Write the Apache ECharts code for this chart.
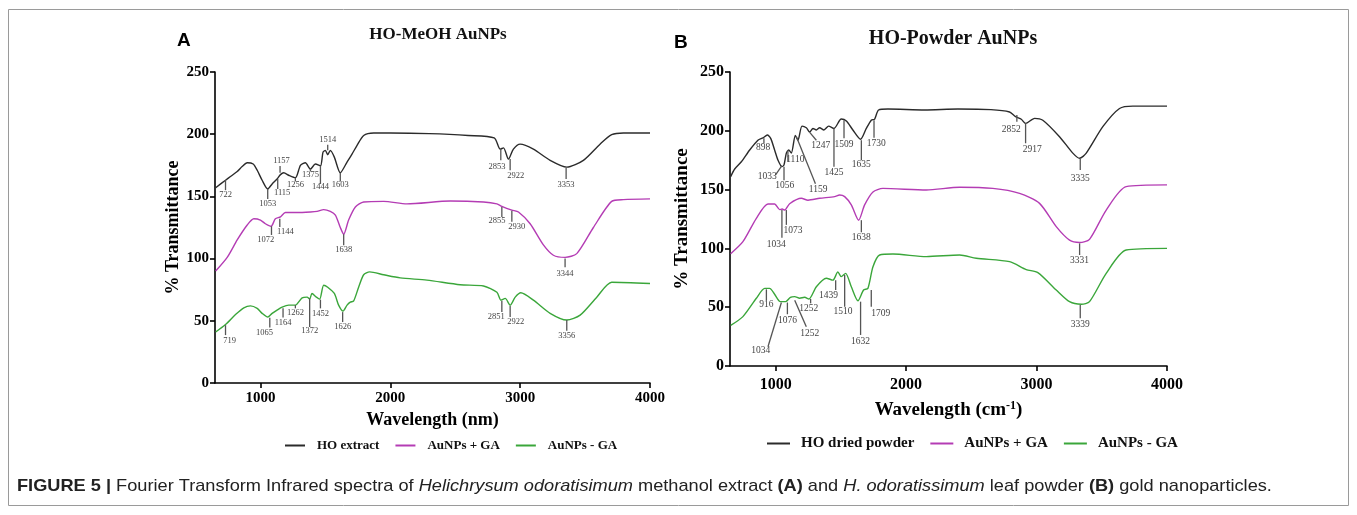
<!DOCTYPE html>
<html>
<head>
<meta charset="utf-8">
<title>FTIR spectra of HO AuNPs</title>
<script src="https://cdn.jsdelivr.net/npm/echarts@6/dist/echarts.min.js"></script>
<style>
    html, body { margin: 0; padding: 0; background: #fff; }
    #main { width: 1357px; height: 515px; }
</style>
</head>
<body>
<div id="main"></div>
<script>
// ---- panel A : HO-MeOH AuNPs (wavenumber, % transmittance) ----
const extractA = [[655,157],[731,163],[769,166],[821,170],[859,174],[898,177],[944,176],[975,171],[1013,163],[1056,156],[1090,160],[1128,164],[1154,167.5],[1179,169],[1218,167],[1269,165],[1308,175],[1346,177],[1385,172],[1423,176],[1462,174.5],[1482,185.6],[1500,187],[1518,183.5],[1538,187],[1569,181.6],[1615,169],[1667,177.6],[1705,184],[1744,191],[1795,199],[1872,201],[2000,201],[2300,200.5],[2600,199],[2800,197],[2846,188],[2872,189],[2910,180],[2948,188],[3000,192],[3102,188],[3231,179],[3359,173.5],[3487,179],[3615,192],[3705,199.6],[3795,201],[4000,201]];
const plusGaA = [[655,90],[744,101],[821,115],[898,127],[949,132],[1000,131],[1038,128],[1082,126],[1115,132],[1154,133.5],[1192,137],[1282,137],[1385,137.5],[1436,138],[1487,139.4],[1538,138],[1577,135],[1615,125],[1641,119.6],[1679,131],[1731,141.5],[1795,145.5],[1949,146],[2128,144],[2462,146.3],[2718,145.5],[2821,144],[2859,142],[2936,139],[2987,137.5],[3077,128],[3179,111],[3256,102.7],[3346,101],[3436,104],[3564,125],[3705,146],[3795,147.4],[4000,148]];
const minusGaA = [[655,41],[731,47],[808,55],[872,60.4],[923,62],[975,60],[1013,56],[1056,53],[1090,56],[1128,58.6],[1167,61],[1218,62.6],[1269,62.6],[1321,68.5],[1359,69],[1379,67.4],[1397,72],[1431,69],[1456,67.4],[1487,78.6],[1518,77],[1569,72],[1602,62.6],[1636,57.8],[1667,62.6],[1692,65],[1718,66],[1756,77],[1795,87],[1841,89.3],[1949,87],[2077,84.5],[2282,82.7],[2538,79],[2718,78],[2821,73],[2852,66.6],[2885,68],[2923,62.6],[2962,69],[3005,72.5],[3102,66.6],[3231,56],[3359,50.6],[3462,54.6],[3590,69],[3705,81],[4000,80]];

// ---- panel B : HO-Powder AuNPs ----
const powderB = [[655,161],[686,167.5],[737,173.7],[801,183.7],[864,192],[903,194],[936,196.4],[962,193.6],[992,183.7],[1018,175],[1048,169.5],[1064,171],[1082,181],[1100,183.7],[1120,181],[1151,196],[1171,192],[1202,204],[1235,202.6],[1261,199],[1286,202],[1312,200.7],[1337,202.6],[1370,200.7],[1406,204],[1447,202],[1503,210],[1542,208.3],[1592,200.7],[1651,192.8],[1695,202],[1733,209],[1759,210],[1789,217.7],[1861,218.5],[2142,217.7],[2397,218.5],[2650,218],[2793,216],[2839,212],[2883,209.8],[2916,206.3],[2985,210.6],[3048,209],[3176,195],[3278,181],[3330,176.6],[3381,181],[3508,203.5],[3636,219],[3738,221],[4000,221]];
const plusGaB = [[655,95.5],[749,105.7],[852,125.6],[941,137.7],[992,137.7],[1031,133],[1050,133.5],[1069,132.6],[1107,138],[1197,142.6],[1248,141],[1337,142.6],[1452,144],[1490,145.4],[1529,144],[1580,137],[1636,124],[1682,137],[1746,148],[1822,151],[2155,149.7],[2410,152],[2665,151],[2870,146.8],[3023,138.3],[3151,118.5],[3253,107],[3330,105],[3406,107.7],[3534,132.6],[3687,152.5],[4000,154]];
const minusGaB = [[655,34.5],[749,42],[852,57.6],[916,66],[954,66],[992,61],[1036,54.7],[1077,54.7],[1113,58.4],[1146,59],[1184,57.6],[1222,58.4],[1255,57],[1312,67.4],[1388,74.6],[1439,73],[1477,80],[1503,76],[1536,78.8],[1580,67.4],[1631,55.5],[1674,64.6],[1707,66],[1746,84.4],[1797,94.4],[1899,95.2],[2155,93],[2410,94.4],[2538,91.6],[2793,88.7],[2921,82],[3010,79.4],[3151,64.6],[3253,54.7],[3343,52.5],[3406,54.7],[3534,78.8],[3687,98.6],[4000,100]];

// peak labels: [text, x1, y1, x2, y2, labelX, labelY] in data units
const peaksA = [
    ['722',731,163,731,155,731,151],['1053',1056,156,1056,148,1056,144],['1115',1133,164,1133,156,1167,153],
    ['1157',1151,169,1151,174.5,1162,178.4],['1256',1269,165,1269,162,1269,159.7],['1375',1385,172.3,1385,170,1385,167],
    ['1444',1462,174.5,1462,160,1462,157.5],['1514',1518,187,1518,191.6,1518,195.8],['1603',1615,169,1615,162,1615,159],
    ['2853',2851,188.4,2851,179,2821,174],['2922',2923,180,2923,171,2967,166.4],['3353',3354,173,3354,164,3354,159.7],
    ['1072',1085,126,1085,119,1041,114.8],['1144',1149,132,1149,125.5,1192,121.4],['1638',1641,119.6,1641,110.8,1641,107.3],
    ['2855',2859,141.5,2859,133.5,2821,130.3],['2930',2936,138.5,2936,129.7,2974,125.4],['3344',3346,100,3346,93,3346,88],
    ['719',731,46.5,731,38.5,762,34],['1065',1072,52.4,1072,44.7,1031,40.7],['1164',1174,60,1174,52.7,1174,48.7],
    ['1262',1269,62.6,1269,60,1269,56.4],['1372',1379,68,1379,45,1379,42],['1452',1462,67,1462,60,1462,56],
    ['1626',1633,57,1633,49,1633,45.2],['2851',2859,66,2859,57,2815,53.2],['2922',2923,61.8,2923,53,2967,49.2],
    ['3356',3359,50.6,3359,42,3359,37.7]
];
const peaksB = [
    ['898',910,193.6,910,189.4,903,185.6],['1033',1048,170.3,998,162.4,936,161],['1056',1064,169.5,1064,158,1069,153.9],
    ['1110',1094,183.7,1094,173.7,1151,175.2],['1159',1159,195,1305,155,1325,149.7],['1247',1261,198.7,1312,192,1345,187.3],
    ['1425',1447,202,1447,169.5,1447,164.7],['1509',1524,209,1524,193.6,1524,188],['1635',1657,192,1657,175,1657,171.5],
    ['1730',1754,209,1754,194,1772,189.4],['2852',2849,213.4,2849,207.7,2806,200.7],['2917',2916,206.4,2916,189.4,2967,184.3],
    ['3335',3335,176.6,3335,166.7,3335,159.6],
    ['1034',1048,132.6,1048,109,1005,103.5],['1073',1082,132.6,1082,120,1133,115.6],['1638',1657,124,1657,113.7,1657,109],
    ['3331',3330,104.3,3330,94.4,3330,89.5],
    ['916',929,65.2,929,56,929,51.9],['1034',1044,54,941,16.4,885,12.8],['1076',1090,54,1090,44,1090,39],
    ['1252',1268,57,1268,53.3,1253,48.5],['1252',1146,56,1235,33.4,1261,27.8],['1439',1460,73,1460,64.6,1406,59.8],
    ['1510',1529,77.4,1529,50.4,1516,46.2],['1632',1651,54.7,1651,26.4,1651,20.7],['1709',1733,64.6,1733,50.4,1805,44.8],
    ['3339',3335,51.9,3335,40.6,3335,35.7]
];

const xTicks = [1000, 2000, 3000, 4000];
const legendA = ['HO extract', 'AuNPs + GA', 'AuNPs - GA'];
const legendB = ['HO dried powder', 'AuNPs + GA', 'AuNPs - GA'];

const BLACK = '#2b2b2b', PURPLE = '#b43cb4', GREEN = '#3aa63a';
const serif = '"Liberation Serif", "Times New Roman", serif';
const sans = '"Liberation Sans", Arial, sans-serif';

const chart = echarts.init(document.getElementById('main'));

function xAxisFor(idx, name, size, gap, margin) {
    return {
        gridIndex: idx, type: 'value', min: 650, max: 4000,
        axisLine: { lineStyle: { color: '#000', width: 1.6 } },
        axisTick: { customValues: xTicks, length: 5, lineStyle: { color: '#000', width: 1.6 } },
        axisLabel: { customValues: xTicks, formatter: v => String(v), color: '#000',
                     fontFamily: serif, fontWeight: 'bold', fontSize: size, margin: margin },
        splitLine: { show: false },
        name: name, nameLocation: 'middle', nameGap: gap,
        nameTextStyle: {
            color: '#000', fontFamily: serif, fontWeight: 'bold', fontSize: size + 3,
            rich: { sup: { fontFamily: serif, fontWeight: 'bold', fontSize: 12, verticalAlign: 'top', padding: [0, 0, 8, 0] } }
        }
    };
}

function yAxisFor(idx, size, gap) {
    return {
        gridIndex: idx, type: 'value', min: 0, max: 250, interval: 50,
        axisLine: { show: true, lineStyle: { color: '#000', width: 1.6 } },
        axisTick: { show: true, length: 5, lineStyle: { color: '#000', width: 1.6 } },
        axisLabel: { color: '#000', fontFamily: serif, fontWeight: 'bold', fontSize: size, margin: 6 },
        splitLine: { show: false },
        name: '% Transmittance', nameLocation: 'middle', nameGap: gap, nameRotate: 90,
        nameTextStyle: { color: '#000', fontFamily: serif, fontWeight: 'bold', fontSize: size + 3 }
    };
}

function spectrum(name, data, color, idx) {
    return {
        type: 'line', name: name, data: data, xAxisIndex: idx, yAxisIndex: idx,
        symbol: 'none', smooth: 0.25, silent: true,
        lineStyle: { color: color, width: 1.4 }, itemStyle: { color: color }
    };
}

function peakSeries(peaks, idx, fontSize) {
    return {
        type: 'custom', xAxisIndex: idx, yAxisIndex: idx, silent: true, z: 5,
        data: peaks.map(p => p.slice(1)),
        encode: { x: [0, 2, 4], y: [1, 3, 5] },
        renderItem: (params, api) => {
            const p = peaks[params.dataIndex];
            const a = api.coord([p[1], p[2]]);
            const b = api.coord([p[3], p[4]]);
            const t = api.coord([p[5], p[6]]);
            return {
                type: 'group',
                children: [
                    { type: 'line', shape: { x1: a[0], y1: a[1], x2: b[0], y2: b[1] },
                      style: { stroke: '#555', lineWidth: 1.3 } },
                    { type: 'text', x: t[0], y: t[1],
                      style: { text: p[0], fill: '#444', fontFamily: serif, fontSize: fontSize,
                               align: 'center', verticalAlign: 'middle' } }
                ]
            };
        }
    };
}

const legendBase = {
    icon: 'rect', itemWidth: 20, itemHeight: 2, itemGap: 16,
    selectedMode: false
};

chart.setOption({
    animation: false,
    backgroundColor: '#fff',
    title: [
        { text: 'HO-MeOH AuNPs', left: 433, top: 21, textAlign: 'center',
          textStyle: { fontFamily: serif, fontWeight: 'bold', fontSize: 17, color: '#111' } },
        { text: 'HO-Powder AuNPs', left: 948, top: 24, textAlign: 'center',
          textStyle: { fontFamily: serif, fontWeight: 'bold', fontSize: 20, color: '#111' } }
    ],
    legend: [
        Object.assign({}, legendBase, { data: legendA, left: 280, top: 434,
            textStyle: { fontFamily: serif, fontWeight: 'bold', fontSize: 13, color: '#111', padding: [0, 0, 0, 7] } }),
        Object.assign({}, legendBase, { data: legendB, left: 762, top: 431, itemWidth: 23,
            textStyle: { fontFamily: serif, fontWeight: 'bold', fontSize: 15, color: '#111', padding: [0, 0, 0, 6] } })
    ],
    grid: [
        { left: 215, top: 72, width: 435, height: 311 },
        { left: 730, top: 72, width: 437, height: 294 }
    ],
    xAxis: [
        xAxisFor(0, 'Wavelength (nm)', 15, 28, 8),
        xAxisFor(1, 'Wavelength (cm{sup|-1})', 16, 34, 11)
    ],
    yAxis: [yAxisFor(0, 15, 33), yAxisFor(1, 16, 38)],
    series: [
        spectrum('HO extract', extractA, BLACK, 0),
        spectrum('AuNPs + GA', plusGaA, PURPLE, 0),
        spectrum('AuNPs - GA', minusGaA, GREEN, 0),
        spectrum('HO dried powder', powderB, BLACK, 1),
        spectrum('AuNPs + GA', plusGaB, PURPLE, 1),
        spectrum('AuNPs - GA', minusGaB, GREEN, 1),
        peakSeries(peaksA, 0, 8.5),
        peakSeries(peaksB, 1, 9.5)
    ],
    graphic: [
        { type: 'rect', shape: { x: 8.5, y: 9.5, width: 1340, height: 496 },
          style: { fill: 'none', stroke: '#9a9a9a', lineWidth: 1 }, silent: true },
        { type: 'text', left: 177, top: 31,
          style: { text: 'A', fontFamily: sans, fontWeight: 'bold', fontSize: 19, fill: '#000' } },
        { type: 'text', left: 674, top: 33,
          style: { text: 'B', fontFamily: sans, fontWeight: 'bold', fontSize: 19, fill: '#000' } },
        { type: 'text', x: 17, y: 478, scaleX: 1.07,
          style: {
              text: '{b|FIGURE 5 |} Fourier Transform Infrared spectra of {i|Helichrysum odoratisimum} methanol extract {b|(A)} and {i|H. odoratissimum} leaf powder {b|(B)} gold nanoparticles.',
              fontFamily: sans, fontSize: 17, fill: '#222',
              rich: {
                  b: { fontFamily: sans, fontSize: 17, fontWeight: 'bold', fill: '#222' },
                  i: { fontFamily: sans, fontSize: 17, fontStyle: 'italic', fill: '#222' }
              }
          } }
    ]
});
</script>
</body>
</html>
